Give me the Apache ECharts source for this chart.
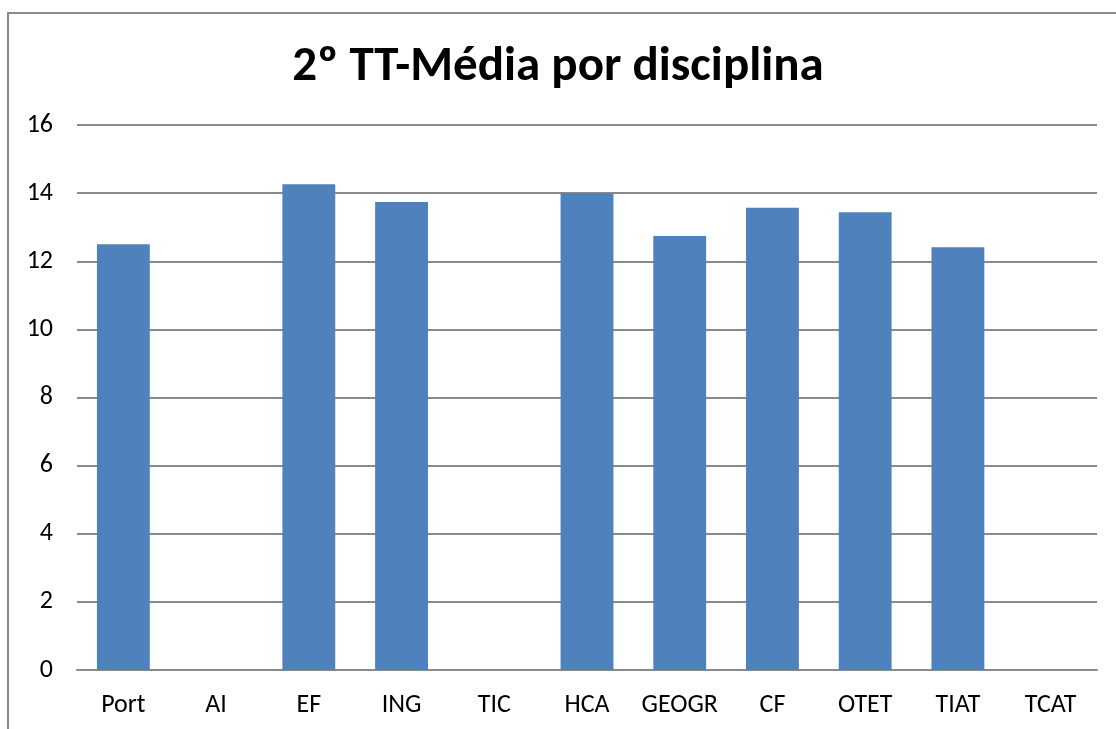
<!DOCTYPE html>
<html>
<head>
<meta charset="utf-8">
<script src="https://cdn.jsdelivr.net/npm/echarts@6/dist/echarts.min.js"></script>
<style>
  html, body { margin: 0; padding: 0; background: #fff; overflow: hidden; }
  .frame {
    position: absolute; left: 7px; top: 12px; width: 1200px; height: 800px;
    border-left: 2px solid #8a8a8a; border-top: 2px solid #8a8a8a;
  }
  #chart { position: absolute; left: 0; top: 0; width: 1116px; height: 729px; }
</style>
</head>
<body>
<div class="frame"></div>
<div id="chart"></div>
<script>
const categories = ['Port', 'AI', 'EF', 'ING', 'TIC', 'HCA', 'GEOGR', 'CF', 'OTET', 'TIAT', 'TCAT']
const medias = [12.5, 0, 14.26, 13.74, 0, 14.0, 12.74, 13.57, 13.44, 12.41, 0]
const yTicks = [0, 2, 4, 6, 8, 10, 12, 14, 16]

const font = 'Carlito, Lato, "Open Sans", sans-serif'
const chart = echarts.init(document.getElementById('chart'))
const option = {
  animation: false,
  title: {
    text: '2º TT-Média por disciplina',
    left: 'center',
    top: 38,
    textStyle: { fontFamily: font, fontSize: 49, fontWeight: 'bold', color: '#000' }
  },
  grid: { left: 77, right: 19, top: 125, bottom: 59 },
  xAxis: {
    type: 'category',
    data: categories,
    axisTick: { show: false },
    axisLine: { lineStyle: { color: '#8a8a8a', width: 2 } },
    axisLabel: { color: '#000', fontFamily: font, fontSize: 26, margin: 22, interval: 0 }
  },
  yAxis: {
    type: 'value',
    min: yTicks[0],
    max: yTicks[yTicks.length - 1],
    interval: 2,
    axisLine: { show: false },
    axisTick: { show: false },
    splitLine: { lineStyle: { color: '#8a8a8a', width: 2 } },
    axisLabel: { color: '#000', fontFamily: font, fontSize: 26, margin: 24 }
  },
  series: [
    {
      type: 'bar',
      data: medias,
      barWidth: '57%',
      itemStyle: { color: '#4f81bd' }
    }
  ]
}
chart.setOption(option)
</script>
</body>
</html>
